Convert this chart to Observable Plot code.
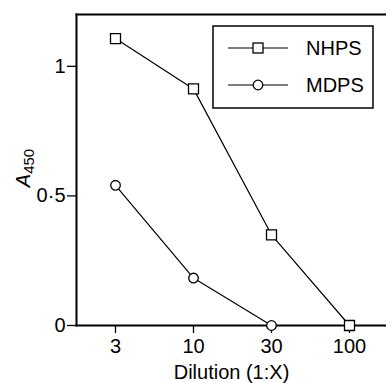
<!DOCTYPE html>
<html>
<head>
<meta charset="utf-8">
<script src="https://cdn.jsdelivr.net/npm/d3@7"></script>
<script src="https://cdn.jsdelivr.net/npm/@observablehq/plot@0.6"></script>
<style>
html, body { margin: 0; padding: 0; background: #fff; overflow: hidden; }
svg { font-family: "Liberation Sans", Arial, sans-serif; }
</style>
</head>
<body>
<div id="chart"></div>
<script>
const dilutions = [3, 10, 30, 100];
const xTickLabels = ["3", "10", "30", "100"];
const nhpsValues = [1.107, 0.913, 0.35, 0];
const mdpsDilutions = [3, 10, 30];
const mdpsValues = [0.541, 0.183, 0];
const yTicks = [0, 0.5, 1];
const yTickLabels = ["0", "0·5", "1"];
const seriesNames = ["NHPS", "MDPS"];
const xLabel = "Dilution (1:X)";

const nhps = dilutions.map((d, i) => ({dilution: d, value: nhpsValues[i]}));
const mdps = mdpsDilutions.map((d, i) => ({dilution: d, value: mdpsValues[i]}));

const FONT = 20;

function legendMark(index, scales, values, dim) {
  const g = d3.create("svg:g");
  const bx = 213, by = 26, bw = 160, bh = 82;
  g.append("rect").attr("x", bx).attr("y", by).attr("width", bw).attr("height", bh)
    .attr("fill", "white").attr("stroke", "black").attr("stroke-width", 1.5);
  const rows = [
    {name: seriesNames[0], y: by + 22, sym: "square"},
    {name: seriesNames[1], y: by + 59, sym: "circle"}
  ];
  for (const r of rows) {
    g.append("line").attr("x1", bx + 15).attr("x2", bx + 75).attr("y1", r.y).attr("y2", r.y)
      .attr("stroke", "black").attr("stroke-width", 1.2);
    if (r.sym === "square") {
      g.append("rect").attr("x", bx + 45 - 5).attr("y", r.y - 5).attr("width", 10).attr("height", 10)
        .attr("fill", "white").attr("stroke", "black").attr("stroke-width", 1.3);
    } else {
      g.append("circle").attr("cx", bx + 45).attr("cy", r.y).attr("r", 4.8)
        .attr("fill", "white").attr("stroke", "black").attr("stroke-width", 1.3);
    }
    g.append("text").attr("x", bx + 93).attr("y", r.y).attr("dy", "0.36em")
      .attr("text-anchor", "start")
      .attr("font-size", FONT).attr("fill", "black").text(r.name);
  }
  return g.node();
}

function yLabelMark(index, scales, values, dim) {
  const g = d3.create("svg:g").attr("transform", "translate(30,168)");
  const t = g.append("text")
    .attr("transform", "rotate(-90)")
    .style("text-anchor", "middle").attr("font-size", FONT).attr("fill", "black");
  t.append("tspan").attr("font-style", "italic").text("A");
  t.append("tspan").attr("font-size", 15).attr("dy", 4).text("450");
  return g.node();
}

const chart = Plot.plot({
  width: 386,
  height: 383,
  marginLeft: 76,
  marginRight: 0,
  marginTop: 14,
  marginBottom: 58,
  style: {fontFamily: "'Liberation Sans', Arial, sans-serif", fontSize: FONT + "px", color: "black", background: "white", overflow: "hidden"},
  x: {type: "point", domain: dilutions, range: [76, 388], padding: 0.5},
  y: {domain: [0, 1.2]},
  marks: [
    Plot.frame({anchor: "top", strokeWidth: 2}),
    Plot.frame({anchor: "left", strokeWidth: 2}),
    Plot.frame({anchor: "bottom", strokeWidth: 2}),
    Plot.axisY({ticks: yTicks, tickFormat: (d) => yTickLabels[yTicks.indexOf(d)], tickSize: 9, tickPadding: 2, strokeWidth: 1.3, fontSize: FONT, label: null}),
    Plot.axisX({ticks: dilutions, tickFormat: (d) => xTickLabels[dilutions.indexOf(d)], tickSize: 8, tickPadding: 5, strokeWidth: 1.3, fontSize: FONT, label: xLabel, labelAnchor: "center", labelArrow: "none", labelOffset: 53}),
    Plot.line(nhps, {x: "dilution", y: "value", stroke: "black", strokeWidth: 1.2}),
    Plot.line(mdps, {x: "dilution", y: "value", stroke: "black", strokeWidth: 1.2}),
    Plot.dot(nhps, {x: "dilution", y: "value", symbol: "square", r: 5.64, fill: "white", stroke: "black", strokeWidth: 1.3}),
    Plot.dot(mdps, {x: "dilution", y: "value", symbol: "circle", r: 4.8, fill: "white", stroke: "black", strokeWidth: 1.3}),
    legendMark,
    yLabelMark
  ]
});
document.getElementById("chart").appendChild(chart);
</script>
</body>
</html>
